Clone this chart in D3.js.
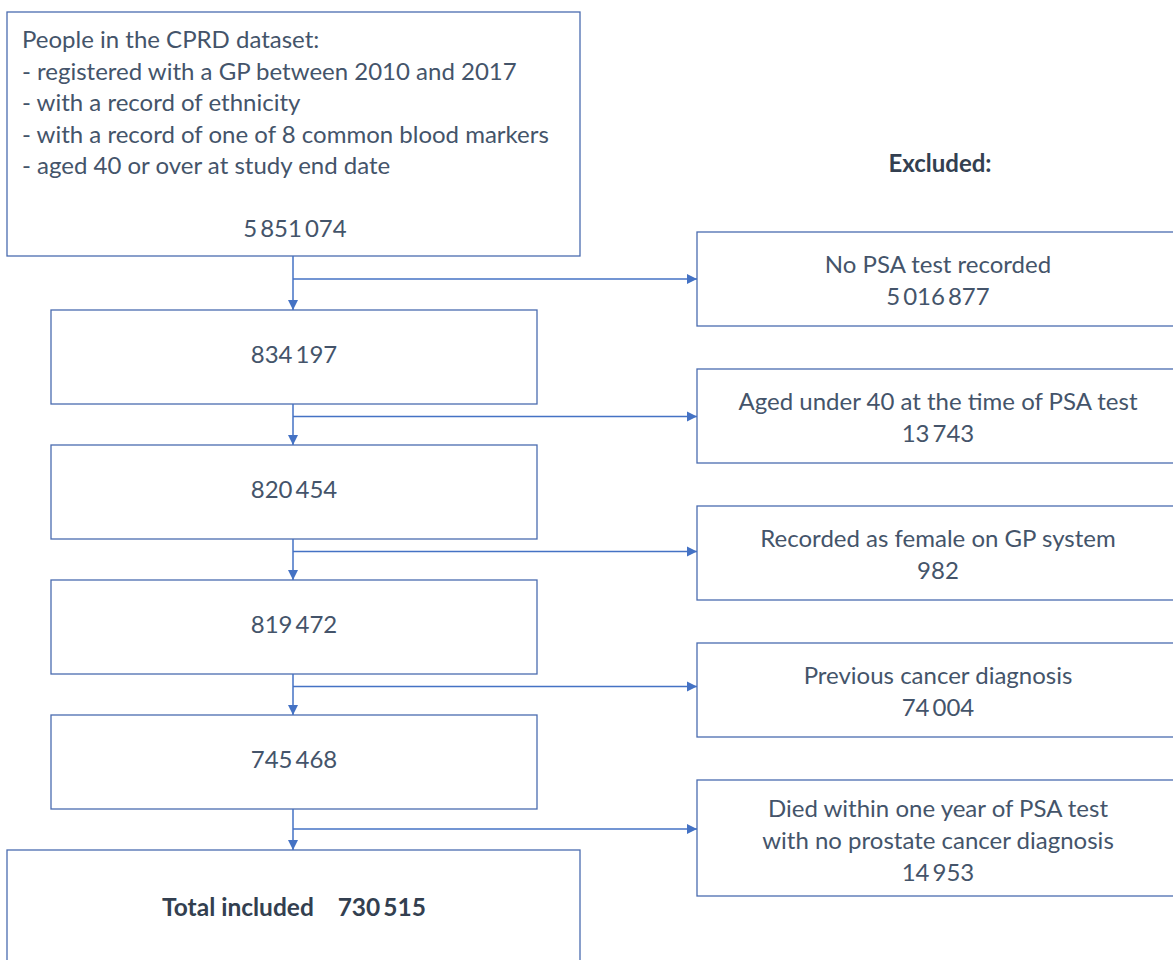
<!DOCTYPE html>
<html><head><meta charset="utf-8">
<script src="https://cdn.jsdelivr.net/npm/d3@7"></script>
<style>
html,body{margin:0;padding:0;background:#fff;}
svg{display:block;}
text{font-family:Lato,"Open Sans",sans-serif;}
</style></head>
<body>
<svg id="chart" width="1173" height="960"></svg>
<script>
// ---- data ----
const sourceLines = [
  "People in the CPRD dataset:",
  "- registered with a GP between 2010 and 2017",
  "- with a record of ethnicity",
  "- with a record of one of 8 common blood markers",
  "- aged 40 or over at study end date"
];
const sourceCount = "5\u2009851\u2009074";
const remainingCounts = ["834\u2009197", "820\u2009454", "819\u2009472", "745\u2009468"];
const totalLabel = "Total included";
const totalCount = "730\u2009515";
const excludedHeader = "Excluded:";
const excludedLabels = [
  ["No PSA test recorded"],
  ["Aged under 40 at the time of PSA test"],
  ["Recorded as female on GP system"],
  ["Previous cancer diagnosis"],
  ["Died within one year of PSA test", "with no prostate cancer diagnosis"]
];
const excludedCounts = ["5\u2009016\u2009877", "13\u2009743", "982", "74\u2009004", "14\u2009953"];

// ---- layout ----
const svg = d3.select("#chart");
const lineColor = "#4472C4";
const boxStroke = "#4a6cb0";
const textColor = "#44546A";
const fs = 24;

svg.append("defs").append("marker")
  .attr("id","arr").attr("viewBox","0 0 10 10").attr("refX",10).attr("refY",5)
  .attr("markerWidth",10).attr("markerHeight",11).attr("markerUnits","userSpaceOnUse")
  .attr("orient","auto")
  .append("path").attr("d","M0,0L10,5L0,10Z").attr("fill",lineColor);

const yStage = d3.scaleLinear().domain([0, 4]).range([310, 850]);
const yExcl = d3.scaleLinear().domain([0, 4]).range([232, 780]);
const mainX0 = 51, mainX1 = 537, boxH = 94;
const cx = 293;
const exX0 = 697, exX1 = 1180;
const exCx = 938;

// source box
svg.append("rect").attr("x",7).attr("y",12).attr("width",573).attr("height",244)
  .attr("fill","none").attr("stroke",boxStroke).attr("stroke-width",1.3);
svg.append("g").selectAll("text").data(sourceLines).join("text")
  .attr("x",22).attr("y",(d,i)=>48+i*31.5)
  .attr("font-size",fs).attr("fill",textColor).text(d=>d);
svg.append("text").attr("x",cx+2).attr("y",237).attr("text-anchor","middle")
  .attr("font-size",fs).attr("fill",textColor).text(sourceCount);

// excluded header
svg.append("text").attr("x",940).attr("y",172).attr("text-anchor","middle")
  .attr("font-size",fs).attr("font-weight","bold").attr("fill","#333F50").text(excludedHeader);

// remaining boxes
remainingCounts.forEach((c,i)=>{
  const y = yStage(i);
  svg.append("rect").attr("x",mainX0).attr("y",y).attr("width",mainX1-mainX0).attr("height",boxH)
    .attr("fill","none").attr("stroke",boxStroke).attr("stroke-width",1.3);
  svg.append("text").attr("x",cx+1).attr("y",y+53).attr("text-anchor","middle")
    .attr("font-size",fs).attr("fill",textColor).text(c);
});

// total box
const yT = yStage(4);
svg.append("rect").attr("x",7).attr("y",yT).attr("width",573).attr("height",140)
  .attr("fill","none").attr("stroke",boxStroke).attr("stroke-width",1.3);
svg.append("text").attr("x",cx+1).attr("y",yT+66).attr("text-anchor","middle")
  .attr("font-size",fs+0.5).attr("font-weight","bold").attr("fill","#333F50")
  .text(totalLabel + "\u00a0\u00a0\u00a0\u00a0" + totalCount);

// excluded boxes + connectors
const prevBottoms = [256].concat(remainingCounts.map((c,i)=>yStage(i)+boxH));
excludedLabels.forEach((lines,i)=>{
  const y = yExcl(i);
  const h = lines.length > 1 ? 116 : 94;
  svg.append("rect").attr("x",exX0).attr("y",y).attr("width",exX1-exX0).attr("height",h)
    .attr("fill","none").attr("stroke",boxStroke).attr("stroke-width",1.3);
  const all = lines.concat([excludedCounts[i]]);
  const base = lines.length > 1 ? y+37 : y+41;
  svg.append("g").selectAll("text").data(all).join("text")
    .attr("x",exCx).attr("y",(d,j)=>base+j*32).attr("text-anchor","middle")
    .attr("font-size",fs).attr("fill",textColor).text(d=>d);

  const top = prevBottoms[i];
  const bottom = yStage(i);
  const by = i === 0 ? 279 : (i === 4 ? 829 : top + 12.5);
  svg.append("line").attr("x1",cx).attr("y1",top).attr("x2",cx).attr("y2",bottom)
    .attr("stroke",lineColor).attr("stroke-width",1.5).attr("marker-end","url(#arr)");
  svg.append("line").attr("x1",cx).attr("y1",by).attr("x2",exX0).attr("y2",by)
    .attr("stroke",lineColor).attr("stroke-width",1.5).attr("marker-end","url(#arr)");
});
</script>
</body></html>
